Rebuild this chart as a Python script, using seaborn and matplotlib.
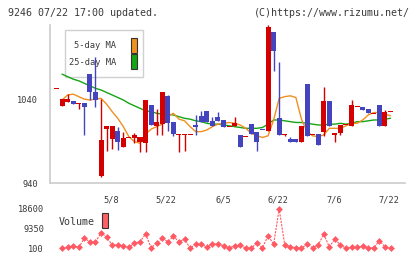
import numpy as np
import pandas as pd
import matplotlib
matplotlib.use("Agg")
import matplotlib.pyplot as plt
import seaborn as sns
from matplotlib.patches import Rectangle

# ---------------- data ----------------
opens = [1054, 1033, 1038, 1039, 1035, 1036, 1071, 1050, 949, 1005,
         993, 1003, 984, 995, 994, 989, 988, 1034, 1009, 1011,
         1045, 1013, 999, 999, 999, 1010, 1021, 1027, 1015, 1020,
         1016, 1008, 1009, 998, 996, 1011, 1002, 1004.5, 1003, 1121,
         1018, 999, 993, 993, 990, 1059, 999, 999, 1002, 1039,
         998, 1000, 1010, 1009, 1032.5, 1032, 1029, 1024, 1034, 1009,
         1026.5]
closes = [1054, 1041, 1041, 1035, 1036, 1031, 1049, 1040, 992, 1009,
          1009, 989, 994, 995, 998, 996, 1040, 1010, 1013, 1050,
          1012, 999, 999, 999, 999, 1008, 1013, 1013, 1009, 1015,
          1008, 1008, 1012, 983, 996, 999, 989, 1003.5, 1128, 1099,
          998, 999, 989, 990, 1009, 997, 999, 986, 1039, 1009,
          1000, 1010, 1010, 1034, 1032.5, 1028, 1024, 1024, 1009, 1026,
          1026.5]
highs = [1054, 1041, 1047, 1039, 1036, 1036, 1071, 1092, 1041, 1009,
         1009, 1008, 1001, 995, 1000, 996, 1040, 1034, 1029, 1050,
         1046, 1013, 999, 999, 999, 1022, 1027, 1027, 1019, 1026,
         1016, 1008, 1020, 998, 996, 1011, 1002, 1004.5, 1130, 1121,
         1085, 999, 996, 993, 1009, 1059, 999, 999, 1056, 1039,
         1000, 1010, 1010, 1040, 1032.5, 1032, 1029, 1024, 1034, 1028,
         1026.5]
lows = [1054, 1033, 1038, 1035, 1029, 998, 1040, 1032, 947, 979,
        981, 980, 984, 995, 988, 978, 978, 1010, 998, 998,
        1003, 997, 978, 979, 999, 998, 1013, 1013, 1009, 1015,
        1008, 1008, 1009, 983, 996, 999, 979, 1003.5, 1003, 1075,
        998, 997, 989, 990, 990, 997, 999, 986, 997, 1009,
        989, 998, 1010, 1009, 1032.5, 1028, 1024, 1024, 1009, 1009,
        1026.5]
nan = np.nan
ma5 = [nan, 1040, 1046, 1047, 1044, 1041, 1040, 1041, 1042, 1035,
       1026, 1018, 1008, 996, 990, 988, 999, 1005, 1008, 1011,
       1020, 1024, 1017, 1015, 1008, 1002, 1002, 1004, 1008, 1011,
       1012, 1013, 1012, 1010, 1006, 1000, 997, 995, 997, 1016,
       1042, 1044, 1045, 1043, 1017, 1002, 997, 996, 998, 1006,
       1006, 1006, 1009, 1012, 1012, 1016, 1022, 1025, 1025, 1023,
       1021]
ma25 = [nan, 1071, 1068, 1065, 1063, 1060, 1057, 1054, 1052, 1049,
        1046, 1043, 1040, 1036, 1033, 1030, 1027, 1026, 1024, 1023,
        1023, 1022, 1020, 1018, 1017, 1015, 1014, 1012, 1011, 1011,
        1010, 1009, 1008, 1007, 1006, 1006, 1006, 1007, 1011, 1016,
        1016, 1015, 1014, 1013, 1013, 1012, 1011, 1010, 1010, 1011,
        1011, 1012, 1011, 1012, 1014, 1014, 1015, 1016, 1016, 1017,
        1018]
volume = [nan, 100, 570, 1180, 570, 4810, 3210, 2920, 7500, 5300,
          1650, 1650, 1320, 570, 2450, 3210, 6830, 380, 2450, 4810,
          3210, 5750, 3210, 4480, 100, 2120, 2120, 570, 2120, 2120,
          1320, 380, 1180, 1650, 100, 380, 2450, 380, 6030, 2120,
          18600, 1650, 850, 380, 100, 2120, 380, 1650, 6690, 850,
          4340, 1650, 100, 570, 570, 1180, 380, 380, 3680, 850,
          100]
date_labels = ["5/8", "5/22", "6/5", "6/22", "7/6", "7/22"]
date_label_idx = [9.8, 19.7, 29.9, 39.8, 49.9, 59.7]
price_ticks = [940, 1040]
price_tick_labels = ["940", "1040"]
vol_ticks = [100, 9350, 18600]
vol_tick_labels = ["100", "9350", "18600"]

# ---------------- styling ----------------
RED = "#d40000"
BLUE = "#4444bf"
ORANGE = "#f0901e"
GREEN = "#14a514"
VOLC = "#ff5a64"
GRID = "#cccccc"
TXT = "#3a3a3a"
MONO = "DejaVu Sans Mono"

sns.set_style("white")
plt.rcParams["font.family"] = [MONO, "DejaVu Sans"]

W, H = 420, 259
fig = plt.figure(figsize=(W / 100, H / 100), dpi=100)
fig.patch.set_facecolor("white")


def fx(px):
    return px / W


def fy(py):
    return 1 - py / H


ax = fig.add_axes([fx(50), fy(183.3), fx(405) - fx(50), fy(25) - fy(183.3)])
axv = fig.add_axes([fx(50), fy(252), fx(405) - fx(50), fy(205) - fy(252)])

n = len(opens)
df = pd.DataFrame({"idx": np.arange(n), "open": opens, "close": closes,
                   "high": highs, "low": lows, "ma5": ma5, "ma25": ma25,
                   "volume": volume})

up = df["close"] >= df["open"]
colors = np.where(up, RED, BLUE)
lo = np.minimum(df["open"], df["close"])
diff = np.abs(df["close"] - df["open"])
min_h = 1.2
height = np.maximum(diff, min_h)
bottom = lo - np.where(diff < min_h, (min_h - diff) / 2, 0)

# MA lines (beneath candles)
sns.lineplot(data=df, x="idx", y="ma25", ax=ax, color=GREEN, lw=1.0,
             estimator=None, zorder=2)
sns.lineplot(data=df, x="idx", y="ma5", ax=ax, color=ORANGE, lw=1.0,
             estimator=None, zorder=2)

# candles
ax.vlines(df["idx"], df["low"], df["high"], colors=colors, lw=1.0, zorder=3)
ax.bar(df["idx"], height, bottom=bottom, width=0.9, color=colors,
       linewidth=0, zorder=4)

xmin = -6.5 / 5.567
xmax = xmin + 355 / 5.567
ax.set_xlim(xmin, xmax)
ax.set_ylim(940, 1130)
ax.set_xlabel("")
ax.set_ylabel("")

for s in ["top", "right"]:
    ax.spines[s].set_visible(False)
for s in ["left", "bottom"]:
    ax.spines[s].set_color(GRID)
    ax.spines[s].set_linewidth(1.2)

ax.set_yticks(price_ticks, price_tick_labels)
ax.tick_params(axis="y", which="major", length=4.5, width=1, color=GRID,
               pad=4.0, labelsize=6.2, labelcolor=TXT, direction="out")
ax.set_xticks(np.linspace(xmin, xmax, 12), [""] * 12)
ax.tick_params(axis="x", which="major", length=5, width=1.2, color=GRID,
               direction="out")
ax.set_xticks(date_label_idx, date_labels, minor=True)
ax.tick_params(axis="x", which="minor", length=0, pad=9.0, labelsize=6.2,
               labelcolor=TXT)
ax.grid(False)
ax.patch.set_alpha(0)

# legend box (drawn under the candles)
ax.add_patch(Rectangle((fx(65), fy(77.3)), fx(143.3) - fx(65), fy(30) - fy(77.3),
                       transform=fig.transFigure, facecolor="white",
                       edgecolor="#d0d0d0", lw=1.0, clip_on=False, zorder=1))
ax.text(fx(116.5), fy(46), "5-day MA", transform=fig.transFigure, ha="right",
        va="center", fontsize=6.3, color=TXT, zorder=1.5)
ax.text(fx(116.5), fy(62.5), "25-day MA", transform=fig.transFigure, ha="right",
        va="center", fontsize=6.3, color=TXT, zorder=1.5)
ax.add_patch(Rectangle((fx(131.3), fy(52.7)), fx(136.7) - fx(131.3), fy(37.7) - fy(52.7),
                       transform=fig.transFigure, facecolor=ORANGE,
                       edgecolor="#333333", lw=0.8, clip_on=False, zorder=1.5))
ax.add_patch(Rectangle((fx(131.3), fy(69.3)), fx(136.7) - fx(131.3), fy(54.3) - fy(69.3),
                       transform=fig.transFigure, facecolor=GREEN,
                       edgecolor="#333333", lw=0.8, clip_on=False, zorder=1.5))

# volume panel
sns.lineplot(data=df, x="idx", y="volume", ax=axv, color=VOLC, lw=0.8,
             linestyle=(0, (2, 1)), marker="D", markersize=3.5,
             markeredgewidth=0, estimator=None, zorder=2)
axv.set_xlim(xmin, xmax)
axv.set_ylim(-1640, 20480)
axv.set_xlabel("")
axv.set_ylabel("")
for s in axv.spines.values():
    s.set_visible(False)
axv.set_xticks([])
axv.set_yticks(vol_ticks, vol_tick_labels)
axv.tick_params(axis="y", length=0, pad=4.3, labelsize=6.2, labelcolor=TXT)
axv.patch.set_alpha(0)

axv.add_patch(Rectangle((fx(101.7), fy(228.3)), fx(107.7) - fx(101.7), fy(213.3) - fy(228.3),
                        transform=fig.transFigure, facecolor="#ff6066",
                        edgecolor="#333333", lw=0.8, clip_on=False, zorder=5))
axv.text(fx(59), fy(221.7), "Volume", transform=fig.transFigure, ha="left",
         va="center", fontsize=7.2, color=TXT, zorder=5)

# header texts
fig.text(fx(8), fy(12.5), "9246 07/22 17:00 updated.", ha="left", va="center",
         fontsize=7.2, color=TXT)
fig.text(fx(410), fy(12.5), "(C)https://www.rizumu.net/", ha="right",
         va="center", fontsize=7.2, color=TXT)

fig.savefig("out.png", dpi=100, facecolor="white")
